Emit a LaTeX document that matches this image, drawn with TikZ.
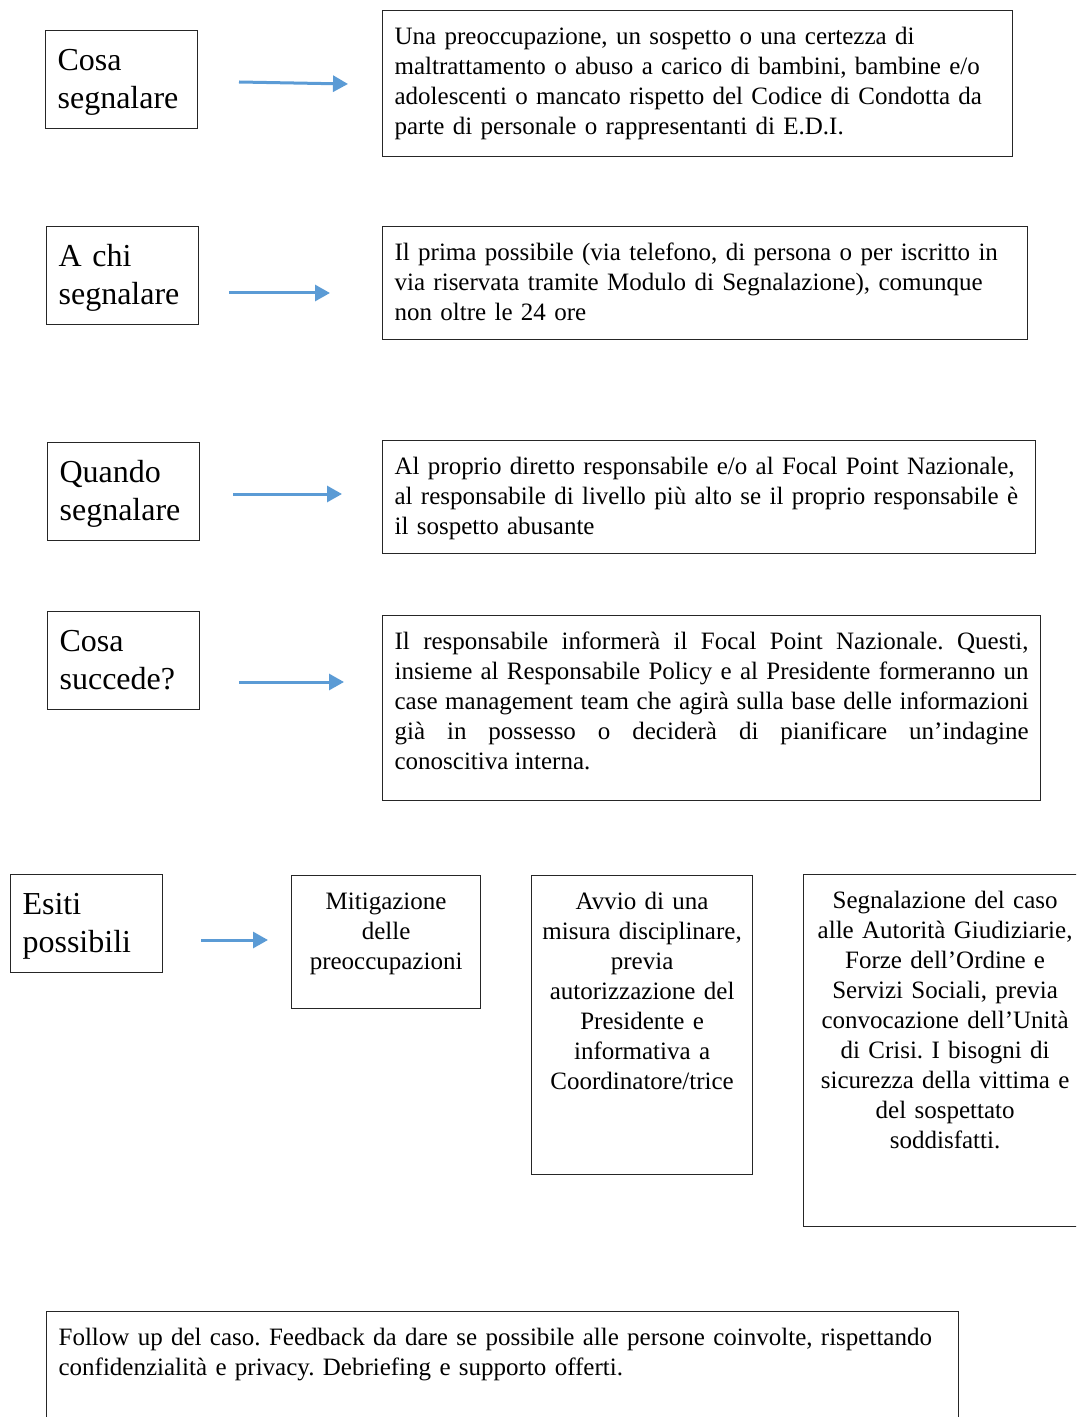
\documentclass[tikz,border=0pt]{standalone}
\usepackage{fontspec}
\setmainfont{Liberation Serif}
\usepackage{tikz}
\usetikzlibrary{arrows.meta}
\definecolor{flowArrow}{HTML}{5B9BD5}
\definecolor{flowEdge}{HTML}{262626}
\frenchspacing
\hyphenpenalty=10000

\begin{document}
\begin{tikzpicture}[
    x=0.5pt, y=-0.5pt,
    question/.style={draw=flowEdge, line width=0.6pt, anchor=north west, align=left, inner xsep=6pt, inner ysep=0pt, text width=64pt, text height=20pt, text depth=29pt, font=\fontsize{16}{18.8}\selectfont},
    answer/.style={draw=flowEdge, line width=0.6pt, anchor=north west, inner xsep=6pt, inner ysep=0pt, text height=17pt, font=\fontsize{12.5}{15}\selectfont},
    step arrow/.style={draw=flowArrow, line width=1.5pt, -{Triangle[length=7.5pt, width=8pt]}}
]
\useasboundingbox (0,0) rectangle (1076,1417);
\clip (0,0) rectangle (1076,1417);

% ===== COSA SEGNALARE =====
\node[question] (Q1) at (45,30) {Cosa\\segnalare};
\node[answer, align=left, text width=303pt, text depth=56pt] (A1) at (382,10) {Una preoccupazione, un sospetto o una certezza di\\maltrattamento o abuso a carico di bambini, bambine e/o\\adolescenti o mancato rispetto del Codice di Condotta da\\parte di personale o rappresentanti di E.D.I.};
\coordinate (s1) at (239,82); \coordinate (e1) at (348,84);
\draw[step arrow] (s1) -- (e1);

% ===== A CHI SEGNALARE =====
\node[question] (Q2) at (46,226) {A chi\\segnalare};
\node[answer, align=left, text width=310.5pt, text depth=39.5pt] (A2) at (382,226) {Il prima possibile (via telefono, di persona o per iscritto in\\via riservata tramite Modulo di Segnalazione), comunque\\non oltre le 24 ore};
\coordinate (s2) at (229,293); \coordinate (e2) at (330,293);
\draw[step arrow] (s2) -- (e2);

% ===== QUANDO SEGNALARE =====
\node[question] (Q3) at (47,442) {Quando\\segnalare};
\node[answer, align=left, text width=314.5pt, text depth=39.5pt] (A3) at (382,440) {Al proprio diretto responsabile e/o al Focal Point Nazionale,\\al responsabile di livello più alto se il proprio responsabile è\\il sospetto abusante};
\coordinate (s3) at (233,494); \coordinate (e3) at (342,494);
\draw[step arrow] (s3) -- (e3);

% ===== COSA SUCCEDE =====
\node[question] (Q4) at (47,611) {Cosa\\succede?};
\node[answer, align=justify, text width=317pt, text depth=75.5pt] (A4) at (382,615) {Il responsabile informerà il Focal Point Nazionale. Questi,\linebreak insieme al Responsabile Policy e al Presidente formeranno un\linebreak case management team che agirà sulla base delle informazioni\linebreak già in possesso o deciderà di pianificare un’indagine\linebreak conoscitiva interna.};
\coordinate (s4) at (239,682); \coordinate (e4) at (344,682);
\draw[step arrow] (s4) -- (e4);

% ===== ESITI POSSIBILI =====
\node[question] (Q5) at (10,874) {Esiti\\possibili};
\coordinate (s5) at (201,940); \coordinate (e5) at (268,940);
\draw[step arrow] (s5) -- (e5);

\node[answer, align=center, text width=82.5pt, text depth=49.5pt] (O1) at (291,875) {Mitigazione\\delle\\preoccupazioni};
\node[answer, align=center, inner xsep=3pt, text width=104.5pt, text depth=132.5pt] (O2) at (531,875) {Avvio di una\\misura disciplinare,\\previa\\autorizzazione del\\Presidente e\\informativa a\\Coordinatore/trice};
\node[answer, align=center, text width=129.5pt, text depth=159pt] (O3) at (803,874) {Segnalazione del caso\\alle Autorità Giudiziarie,\\Forze dell’Ordine e\\Servizi Sociali, previa\\convocazione dell’Unità\\di Crisi. I bisogni di\\sicurezza della vittima e\\del sospettato\\soddisfatti.};

% ===== FOLLOW UP =====
\node[answer, align=left, text width=444pt, text depth=48pt] (FU) at (46,1311) {Follow up del caso. Feedback da dare se possibile alle persone coinvolte, rispettando\\confidenzialità e privacy. Debriefing e supporto offerti.};

\end{tikzpicture}
\end{document}
